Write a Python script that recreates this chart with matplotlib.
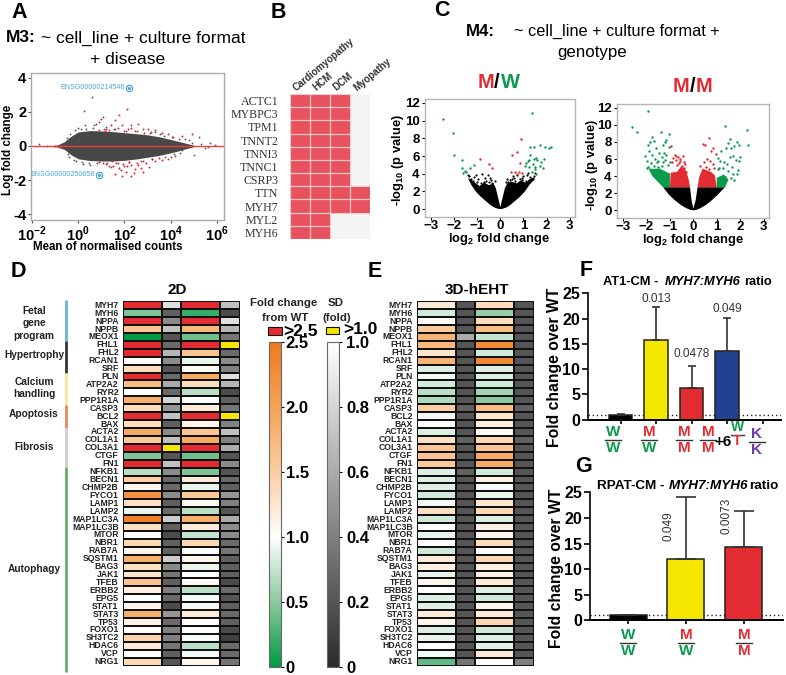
import numpy as np
import matplotlib
matplotlib.use("Agg")
import matplotlib.pyplot as plt
from matplotlib.colors import LinearSegmentedColormap, Normalize
from matplotlib.cm import ScalarMappable
from matplotlib.lines import Line2D
from matplotlib.patches import Rectangle

plt.rcParams['font.family'] = ['Liberation Sans', 'DejaVu Sans']
plt.rcParams['mathtext.fontset'] = 'custom'
plt.rcParams['mathtext.rm'] = 'Liberation Sans:bold'
plt.rcParams['mathtext.bf'] = 'Liberation Sans:bold'

W, H = 786, 675

# panel A, MA plot: cloud outline plus the points that stand apart
ma_cloud_logx = [-1.2, -0.9, -0.6, -0.3, 0.0, 0.5, 1.0, 1.5, 2.0, 2.5, 3.0, 3.5, 4.0, 4.3, 4.6, 5.0]
ma_cloud_up = [0.02, 0.06, 0.25, 0.58, 0.82, 0.9, 0.88, 0.84, 0.78, 0.72, 0.65, 0.54, 0.38, 0.28, 0.18, 0.04]
ma_cloud_low = [-0.02, -0.06, -0.2, -0.52, -0.75, -0.85, -0.88, -0.88, -0.84, -0.76, -0.66, -0.55, -0.4, -0.3, -0.18, -0.04]
ma_grey_logx = [0.6, 0.25, 1.05, -1.7, -1.35, 0.0, 0.3, 0.7, 0.9, 1.2, 1.6, 2.3, 2.8, 3.3, 3.7, 4.2, 4.6, 4.8, 5.0, 5.3, 5.5, 5.7, 5.9, 4.4, 5.2, 3.9, 4.9, 5.6, -0.2, -0.4, 0.2, 0.5, 1.4, 4.5,
                -0.5, -0.35, -0.15, 0.1, 0.35, 0.65, 1.1, 1.55, 2.05, 2.55, 3.1, 3.55, 4.05, 4.35, -0.45, -0.1, 0.15, 0.45, 0.8, 1.25, 1.7, 2.2, 2.7, 3.2, 3.75, 4.15]
ma_grey_y = [2.85, 2.05, 1.7, 0.1, 0.02, 1.05, 1.2, 1.25, 1.4, 1.1, 1.0, 1.2, 1.0, 0.8, 0.6, -0.6, 0.4, 0.35, -0.5, 0.1, -0.1, 0.15, 0.05, -0.4, 0.55, -0.75, 0.15, -0.05, -0.8, -0.65, -1.05, -1.1, -1.25, -0.25,
             0.45, 0.7, 0.95, 1.0, 1.0, 1.05, 1.0, 0.98, 0.9, 0.85, 0.78, 0.68, 0.5, 0.42, -0.45, -0.85, -0.95, -1.0, -1.02, -1.0, -1.0, -0.95, -0.9, -0.78, -0.62, -0.45]
ma_red_logx = [2.1, 0.75, 1.0, 1.2, 1.4, 1.6, 1.9, 2.3, 2.6, 3.0, 3.3, 3.6, 3.9, 4.1, 1.35, 1.7, 2.0, 2.45, 0.9, 1.15, 1.75, 2.15, 2.85, 3.15,
               0.9, 1.2, 1.5, 1.75, 1.95, 2.1, 2.3, 2.55, 2.8, 3.05, 3.3, 3.6, 4.0, 1.05, 1.35, 1.65, 1.85, 2.05, 2.2, 2.45, 2.7, 2.95, 3.2, 3.5, 1.9, 2.4, 2.8, 1.6, 2.0, 2.3, 2.6, 1.45, 4.5, 4.9, -1.0, -0.8, -0.6]
ma_red_y = [2.15, 1.3, 1.6, 1.0, 1.25, 1.5, 1.25, 1.05, 1.3, 1.0, 0.95, 0.75, 0.7, 0.55, 0.95, 1.05, 0.9, 0.85, 0.95, 0.9, 1.8, 1.0, 0.75, 0.8,
            -0.95, -1.05, -1.2, -1.3, -1.05, -1.2, -1.1, -1.0, -0.9, -1.25, -0.85, -0.8, -0.65, -1.0, -1.15, -1.0, -1.4, -1.55, -0.95, -1.35, -1.3, -1.0, -0.75, -0.7, -1.75, -1.6, -1.5, -1.65, -1.15, -1.75, -1.1, -0.9, 0.6, 0.7, 0.02, -0.03, 0.04]
ma_top_gene = "ENSG00000214548"
ma_top_point = (2.2, 3.42)
ma_low_gene = "ENSG00000250658"
ma_low_point = (0.88, -1.69)

# panel B
b_genes = ["ACTC1", "MYBPC3", "TPM1", "TNNT2", "TNNI3", "TNNC1", "CSRP3", "TTN", "MYH7", "MYL2", "MYH6"]
b_groups = ["Cardiomyopathy", "HCM", "DCM", "Myopathy"]
b_member = [[1, 1, 1, 0], [1, 1, 1, 0], [1, 1, 1, 0], [1, 1, 1, 0], [1, 1, 1, 0], [1, 1, 1, 0], [1, 1, 1, 0],
            [1, 1, 1, 1], [1, 1, 1, 1], [1, 1, 0, 0], [1, 1, 0, 0]]

# panel C, M/W volcano
mw_black_x = [-1.4, -1.25, -1.05, -0.85, -0.65, -0.45, -0.28, -0.1, 0.0, 0.1, 0.28, 0.45, 0.65, 0.85, 1.05, 1.25, 1.42, 1.5, 1.35, 1.1, 0.9, 0.7, 0.5, 0.3, 0.2, 0.07, 0.0, -0.07, -0.2, -0.3, -0.5, -0.7, -0.9, -1.1, -1.3]
mw_black_y = [3.5, 2.7, 1.95, 1.4, 0.95, 0.5, 0.2, 0.03, 0.0, 0.03, 0.2, 0.5, 0.95, 1.4, 1.95, 2.7, 3.2, 3.6, 3.5, 3.0, 3.2, 2.9, 3.1, 2.9, 2.4, 1.0, 0.2, 1.0, 2.4, 2.9, 2.7, 3.0, 2.6, 3.0, 3.4]
mw_dots_x = [-1.4, -1.35, -1.25, -1.15, -0.95, -0.8, -0.65, -0.55, -0.4, -0.25, 0.3, 0.4, 0.55, 0.7, 0.85, 1.0, 1.15, 1.3, 1.45, 1.5, -1.05, -0.7, -0.45, 0.25, 0.6, 0.95, 1.2,
             -1.2, -1.0, -0.85, -0.6, -0.5, -0.35, 0.35, 0.5, 0.65, 0.8, 0.95, 1.1, 1.25, 1.4]
mw_dots_y = [3.9, 3.7, 3.4, 3.6, 3.4, 4.0, 3.5, 3.9, 3.3, 3.2, 3.4, 3.3, 3.7, 3.9, 3.4, 3.7, 3.9, 3.6, 3.7, 4.05, 3.9, 3.1, 3.5, 3.1, 3.5, 3.3, 4.05,
             3.2, 3.1, 3.0, 3.2, 3.1, 3.0, 3.1, 3.4, 3.2, 3.1, 3.5, 3.2, 3.3, 3.4]
mw_green_x = [-2.5, -2.05, -2.0, -1.65, -1.65, -1.55, -1.6, -1.5, -1.3, -1.15, 1.35, 1.3, 1.45, 1.7, 1.95, 2.1, 2.2, 1.3, 1.25, 1.1, 1.2, 1.45, 1.55, 1.6, 1.75, 1.9, 1.4, 1.05, 1.5, 1.7, 1.85, 1.5, 1.25, 1.35, 1.55]
mw_green_y = [10.2, 8.6, 6.1, 5.5, 4.7, 4.3, 4.1, 4.15, 4.6, 5.0, 10.9, 7.0, 7.05, 7.3, 7.05, 6.85, 7.0, 6.1, 5.6, 5.2, 5.4, 5.7, 5.8, 5.5, 5.3, 5.7, 5.1, 4.9, 4.8, 4.9, 4.7, 4.5, 4.8, 4.2, 4.0]
mw_red_x = [-0.9, -0.5, -0.35, 0.9, 0.7, 0.5, 0.85, 0.8, 0.65, 0.45, 0.95, 0.7]
mw_red_y = [5.7, 5.1, 4.6, 7.9, 6.5, 6.1, 5.2, 4.2, 4.15, 4.15, 4.1, 4.0]

# panel C, M/M volcano
mm_black_x = [-1.29, -1.05, -0.8, -0.55, -0.3, -0.14, 0.0, 0.14, 0.3, 0.55, 0.8, 1.05, 1.35, 0.18, 0.1, 0.0, -0.08, -0.14]
mm_black_y = [2.7, 1.85, 1.2, 0.65, 0.25, 0.06, 0.0, 0.06, 0.25, 0.65, 1.2, 1.85, 2.7, 2.7, 1.2, 0.2, 1.2, 2.7]
mm_red_left_x = [-1.0, -0.97, -0.7, -0.5, -0.3, -0.2, -0.14, -0.5]
mm_red_left_y = [2.7, 4.4, 4.5, 5.2, 4.6, 3.6, 2.7, 2.7]
mm_red_right_x = [0.18, 0.25, 0.4, 0.55, 0.75, 0.92, 1.0, 0.5]
mm_red_right_y = [2.7, 3.9, 4.9, 4.7, 4.5, 4.1, 2.7, 2.7]
mm_green_left_x = [-1.29, -1.75, -1.9, -1.45, -1.0, -1.0]
mm_green_left_y = [2.7, 4.0, 4.8, 4.9, 4.3, 2.7]
mm_green_right_x = [1.0, 1.0, 1.3, 1.5, 1.35]
mm_green_right_y = [2.7, 3.8, 4.2, 3.6, 2.7]
mm_green_x = [-2.6, -2.4, -1.95, -1.4, -1.05, -1.2, -1.15, -1.75, -1.85, -1.95, -1.7, -1.6, -1.3, -1.25, -1.05, -2.05, -1.9, -1.75, -1.45, -1.35, -1.15, -1.65, -1.5, -1.3, -1.2, -1.0, -2.0, -1.8, -1.55, -1.35, -1.1, -1.95, -1.7, -2.0, -1.85, -1.5,
              1.35, 2.3, 2.35, 1.55, 1.5, 1.85, 1.95, 1.75, 1.4, 1.2, 1.05, 1.15, 1.6, 1.7, 2.0, 1.95, 1.3, 1.55, 1.8, 1.45, 1.1, 1.25, 1.65, 1.9, 1.5, 1.7, 1.05, 1.35, 1.6, 1.85, 1.2, 1.75]
mm_green_y = [9.8, 9.2, 11.6, 9.2, 8.9, 8.0, 8.2, 8.6, 8.0, 7.6, 8.1, 7.3, 7.7, 6.7, 7.4, 6.4, 6.9, 6.5, 6.7, 6.2, 6.5, 6.0, 5.8, 5.6, 5.9, 5.6, 5.8, 5.5, 5.6, 5.2, 5.3, 5.1, 5.2, 4.9, 4.8, 5.1,
              9.9, 9.4, 7.6, 8.3, 7.9, 8.0, 7.7, 7.5, 7.3, 6.9, 6.1, 5.8, 7.3, 6.4, 6.2, 5.8, 5.6, 6.3, 5.9, 5.4, 5.0, 4.9, 5.1, 4.7, 4.6, 4.2, 4.8, 3.9, 3.8, 4.3, 3.3, 3.5]
mm_red_x = [-0.95, -0.8, -0.75, -0.65, -0.55, -0.45, -0.35, -0.9, -0.7, -0.6, -0.5, -0.4, -0.3, -0.85, -0.55, -0.42, -0.72,
            0.65, 0.4, 0.5, 0.85, 0.75, 0.95, 0.6, 0.3, 0.45, 0.7, 0.55, 0.85, 0.35, 0.9, 0.65, 0.5]
mm_red_y = [7.5, 6.5, 5.9, 6.2, 5.8, 6.4, 5.4, 5.6, 5.3, 5.5, 5.2, 5.0, 4.5, 6.1, 6.0, 5.6, 6.4,
            8.5, 7.8, 7.7, 7.3, 6.9, 6.6, 6.0, 5.2, 5.6, 5.8, 5.1, 5.4, 4.5, 5.0, 4.8, 4.6]

# panels D and E
genes = ["MYH7", "MYH6", "NPPA", "NPPB", "MEOX1", "FHL1", "FHL2", "RCAN1", "SRF", "PLN", "ATP2A2", "RYR2", "PPP1R1A",
         "CASP3", "BCL2", "BAX", "ACTA2", "COL1A1", "COL3A1", "CTGF", "FN1", "NFKB1", "BECN1", "CHMP2B", "FYCO1", "LAMP1",
         "LAMP2", "MAP1LC3A", "MAP1LC3B", "MTOR", "NBR1", "RAB7A", "SQSTM1", "BAG3", "JAK1", "TFEB", "ERBB2", "EPG5",
         "STAT1", "STAT3", "TP53", "FOXO1", "SH3TC2", "HDAC6", "VCP", "NRG1"]
fc_2d_a = [3, .45, 3, 1.6, 0, 3, 3, 1.05, 1.35, 3, 1.7, 1.0, 1.85, 1.35, 3, 1.35, 1.9, 1.55, 3, .45, 3, .7, 1.5, 1.1, 2.2, 1.3,
           .9, 2.4, 1.3, 1.0, 1.4, 1.1, 1.85, 1.3, 1.25, 1.65, 1.15, 1.0, 1.1, 1.85, 1.15, 1.0, 1.45, 1.2, 1.0, 1.4]
sd_2d_a = [.85, .25, .45, .7, .2, .3, .65, .45, .2, .3, .6, .3, .8, .5, .7, .25, .45, .7, 1.2, .2, .7, .45, .3, .3, .45, .25,
           .3, .75, .25, .15, .25, .25, .75, .45, .35, .25, .4, .3, .15, .5, .3, .4, .4, .35, .25, .2]
fc_2d_b = [3, .2, 3, 1.75, .4, 3, 1.6, .9, 1.05, 1.9, 1.35, .7, 1.0, 1.2, 3, 1.1, 1.6, 1.9, 3, .4, 3, .45, 1.2, .9, 1.55, 1.05,
           .7, 1.85, 1.2, .75, 1.4, 1.0, 1.1, .9, 1.0, 1.05, .7, .95, .95, 1.2, 1.0, 1.0, .95, .7, .95, 1.1]
sd_2d_b = [.7, .15, .85, .65, .35, 1.2, .3, .45, .4, .85, .65, .15, .25, .35, 1.2, .4, .7, .4, .6, .2, .45, .2, .3, .25, .5, .4,
           .2, .6, .45, .45, .3, .35, .25, .25, .25, .15, .3, .2, .25, .3, .25, .15, .1, .3, .3, .35]
fc_3d_a = [1.2, .8, 1.05, 1.55, 1.8, 1.75, 1.25, 1.8, .85, .95, .8, .7, .65, 1.5, .95, 1.0, .85, 1.3, 1.6, 1.6, 1.55, .85, .85,
           .85, .8, .95, 1.3, .8, 1.0, .9, 1.0, .8, 1.2, 1.15, .9, 1.1, 1.0, .85, .85, 1.2, 1.1, .85, .9, 1.0, .95, .35]
sd_3d_a = [.2, .2, .2, .2, .6, .2, .2, .2, .2, .2, .2, .2, .2, .25, .2, .2, .2, .25, .2, .2, .2, .25, .2,
           .2, .2, .2, .2, .2, .2, .2, .2, .2, .2, .2, .2, .2, .2, .2, .2, .2, .2, .2, .2, .2, .2, .35]
fc_3d_b = [1.35, .55, 1.35, 1.7, .75, 2.3, .8, 2.3, .85, .85, .8, .6, .5, 1.7, 1.25, 1.15, 1.05, 1.4, 1.6, 1.9, 1.9, .8, 1.15,
           .95, .9, 1.25, 1.4, .85, 1.15, 1.1, 1.35, 1.0, 1.4, 1.15, 1.15, 1.2, .85, .8, 1.1, 1.2, 1.4, .8, .85, .88, 1.2, 1.0]
sd_3d_b = [.2, .2, .2, .2, .2, .2, .2, .2, .2, .2, .2, .2, .2, .25, .2, .2, .2, .25, .2, .2, .2, .2, .2,
           .2, .2, .2, .2, .2, .2, .2, .2, .2, .2, .2, .2, .2, .2, .2, .2, .2, .2, .2, .2, .2, .2, .4]
fold_ticks = [0, 0.5, 1.0, 1.5, 2.0, 2.5]
fold_tick_labels = ["0", "0.5", "1.0", "1.5", "2.0", "2.5"]
sd_ticks = [0, 0.2, 0.4, 0.6, 0.8, 1.0]
sd_tick_labels = ["0", "0.2", "0.4", "0.6", "0.8", "1.0"]

# panels F and G
f_values = [0.9, 15.8, 6.3, 13.6]
f_err_top = [1.1, 22.3, 10.7, 20.1]
f_pvals = ["0.013", "0.0478", "0.049"]
f_pval_heights = [23.9, 12.9, 21.9]
bar_ticks = [0, 5, 10, 15, 20, 25]
g_values = [1.0, 12.0, 14.3]
g_err_top = [1.1, 24.1, 21.3]
g_pvals = ["0.049", "0.0073"]
g_pval_heights = [18.3, 20.4]

C_RED = "#E32B32"
C_GREEN = "#0A9B4C"
C_YELLOW = "#F5E600"
C_BLUE = "#22418F"
C_PURPLE = "#6A3FA0"
C_PINK = "#E8525F"
C_LABEL = "#4BA3D8"
C_TEXT = "#222222"

fig = plt.figure(figsize=(W / 100, H / 100), dpi=100)


def axes_px(left, top, right, bottom):
    return fig.add_axes([left / W, 1 - bottom / H, (right - left) / W, (bottom - top) / H])


def text_px(x, y, s, **kw):
    kw.setdefault("va", "center")
    kw.setdefault("ha", "center")
    return fig.text(x / W, 1 - y / H, s, **kw)


def line_px(x0, y0, x1, y1, **kw):
    fig.add_artist(Line2D([x0 / W, x1 / W], [1 - y0 / H, 1 - y1 / H], transform=fig.transFigure, **kw))


def fraction(x, y, top, bottom, top_color, bottom_color, size=11):
    text_px(x, y, top, color=top_color, fontsize=size, fontweight="bold")
    text_px(x, y + 16, bottom, color=bottom_color, fontsize=size, fontweight="bold")
    line_px(x - 8, y + 8, x + 8, y + 8, color="#333333", lw=1)


# panel letters
for letter, x, y in [("A", 19, 12), ("B", 278, 13), ("C", 442, 11), ("D", 18, 271), ("E", 375, 271), ("F", 586, 270), ("G", 583, 467)]:
    text_px(x, y, letter, fontsize=15.5, fontweight="bold")

# titles
text_px(21, 38, "M3:", fontsize=12.5, fontweight="bold")
text_px(143, 38, "~ cell_line + culture format", fontsize=12.5)
text_px(128, 59, "+ disease", fontsize=12.5)
text_px(480, 31, "M4:", fontsize=12.2, fontweight="bold")
text_px(617, 31, "~ cell_line + culture format +", fontsize=11.7)
text_px(592, 53, "genotype", fontsize=12.2)

# A
ax = axes_px(31, 73, 224, 220)
ax.set_xscale("log")
ax.fill_between(10.0 ** np.array(ma_cloud_logx), ma_cloud_low, ma_cloud_up, color="#484848", lw=0)
ax.scatter(10.0 ** np.array(ma_grey_logx), ma_grey_y, s=1.8, color="#5A5A5A", lw=0)
ax.scatter(10.0 ** np.array(ma_red_logx), ma_red_y, s=2, color="#E8202A", lw=0)
ax.axhline(0, color="#E8403F", lw=1)
for gene, (lx, ly) in [(ma_top_gene, ma_top_point), (ma_low_gene, ma_low_point)]:
    ax.plot(10 ** lx, ly, "o", ms=4.5, mfc="none", mec=C_LABEL, mew=0.9)
    ax.plot(10 ** lx, ly, "o", ms=1.2, color=C_LABEL)
    ax.annotate(gene, (10 ** lx, ly), xytext=(-3, 0), textcoords="offset points", ha="right", va="center", fontsize=5.1, color=C_LABEL)
ax.set_xlim(10 ** -2.04, 10 ** 6.3)
ax.set_ylim(-4.33, 4.27)
ax.set_xticks([1e-2, 1e0, 1e2, 1e4, 1e6])
ax.set_xticklabels([r"10$^{\mathrm{-2}}$", r"10$^{\mathrm{0}}$", r"10$^{\mathrm{2}}$", r"10$^{\mathrm{4}}$", r"10$^{\mathrm{6}}$"], fontsize=10.5, fontweight="bold")
ax.minorticks_off()
ax.set_yticks([-4, -2, 0, 2, 4])
ax.set_yticklabels(["-4", "-2", "0", "2", "4"], fontsize=10.5, fontweight="bold")
ax.tick_params(length=2, width=0.8, color="#555555", pad=1.5)
for s in ax.spines.values():
    s.set_color("#AAAAAA")
    s.set_linewidth(1)
text_px(108, 247, "Mean of normalised counts", fontsize=8.3, fontweight="bold")
text_px(8, 150, "Log fold change", fontsize=8.4, fontweight="bold", rotation=90)

# B
ax = axes_px(290, 94, 370, 239)
ax.pcolormesh(np.arange(5), np.arange(12), np.array(b_member), cmap=LinearSegmentedColormap.from_list("b", ["#F4F4F4", C_PINK]),
              edgecolors="none", vmin=0, vmax=1)
for r, row in enumerate(b_member):
    for c, v in enumerate(row):
        if v:
            ax.add_patch(Rectangle((c, r), 1, 1, fc="none", ec="#F7C9CC", lw=0.8))
ax.set_xlim(0, 4)
ax.set_ylim(11, 0)
ax.set_xticks([])
ax.set_yticks(np.arange(11) + 0.5)
ax.set_yticklabels(b_genes, family="Liberation Serif", fontsize=8.6, color="#333333")
ax.tick_params(length=0, pad=8.5)
for s in ax.spines.values():
    s.set_visible(False)
for i, name in enumerate(b_groups):
    ax.text(i + 0.4, -0.1, name, rotation=40, ha="left", va="bottom", rotation_mode="anchor", fontsize=7, fontweight="bold", color="#333333")


# C
def style_volcano(a, pad):
    a.set_xlim(-3.26, 3.23)
    a.set_ylim(-0.9, 12.45)
    a.set_xticks(range(-3, 4))
    a.set_yticks(range(0, 13, 2))
    a.tick_params(labelsize=9.5, length=2, width=0.8, pad=2)
    a.tick_params(axis="x", pad=pad)
    for t in a.get_xticklabels() + a.get_yticklabels():
        t.set_fontweight("bold")
    for s in a.spines.values():
        s.set_color("#B5B5B5")
        s.set_linewidth(1)


ax = axes_px(425, 99, 575, 217)
ax.fill(mw_black_x, mw_black_y, color="black", lw=0)
ax.scatter(mw_dots_x, mw_dots_y, s=2.5, color="black", lw=0)
ax.scatter(mw_green_x, mw_green_y, s=3, color=C_GREEN, lw=0)
ax.scatter(mw_red_x, mw_red_y, s=3, color=C_RED, lw=0)
style_volcano(ax, 0)

ax = axes_px(617, 104, 769, 218)
ax.fill(mm_black_x, mm_black_y, color="black", lw=0)
ax.fill(mm_red_left_x, mm_red_left_y, color=C_RED, lw=0)
ax.fill(mm_red_right_x, mm_red_right_y, color=C_RED, lw=0)
ax.fill(mm_green_left_x, mm_green_left_y, color=C_GREEN, lw=0)
ax.fill(mm_green_right_x, mm_green_right_y, color=C_GREEN, lw=0)
ax.scatter(mm_green_x, mm_green_y, s=3, color=C_GREEN, lw=0)
ax.scatter(mm_red_x, mm_red_y, s=3, color=C_RED, lw=0)
style_volcano(ax, 0)

text_px(486, 83, "M", color=C_RED, fontsize=14.5, fontweight="bold")
text_px(497, 83, "/", color="black", fontsize=14.5, fontweight="bold")
text_px(510, 83, "W", color=C_GREEN, fontsize=14.5, fontweight="bold")
text_px(681, 87, "M", color=C_RED, fontsize=14.5, fontweight="bold")
text_px(692.5, 87, "/", color="black", fontsize=14.5, fontweight="bold")
text_px(704, 87, "M", color=C_RED, fontsize=14.5, fontweight="bold")
text_px(499, 239, r"log$_{\mathrm{2}}$ fold change", fontsize=9.3, fontweight="bold")
text_px(693, 240, r"log$_{\mathrm{2}}$ fold change", fontsize=9.3, fontweight="bold")
text_px(398, 160, r"-log$_{\mathrm{10}}$ (p value)", fontsize=9.3, fontweight="bold", rotation=90)
text_px(592, 165, r"-log$_{\mathrm{10}}$ (p value)", fontsize=9.3, fontweight="bold", rotation=90)

# D and E heatmaps
fold_cmap = LinearSegmentedColormap.from_list(
    "fold", [(0, "#009A44"), (0.2, "#8CC9A0"), (0.4, "#FFFFFF"), (0.6, "#FBCDA0"), (0.8, "#F5A357"), (1, "#EE7A1E")]).with_extremes(over=C_RED)
sd_base = LinearSegmentedColormap.from_list("sd", ["#2B2B2B", "#FFFFFF"])
sd_cmap = sd_base.with_extremes(over=C_YELLOW)
fold_norm = Normalize(0, 2.5)
sd_norm = Normalize(0, 1)


def draw_heat(left, right, columns, label_x):
    edges = [0, 2, 3, 5, 6]
    a = axes_px(left, 301.3, right, 665.6)
    y_edges = np.arange(len(genes) + 1)
    for i, col in enumerate(columns):
        vals = np.array(col).reshape(-1, 1)
        is_fold = i % 2 == 0
        a.pcolormesh(edges[i:i + 2], y_edges, vals, cmap=fold_cmap if is_fold else sd_cmap,
                     norm=fold_norm if is_fold else sd_norm, edgecolors="#111111", linewidth=1.15)
    a.set_xlim(edges[0], edges[-1])
    a.set_ylim(len(genes), 0)
    a.axis("off")
    for i, g in enumerate(genes):
        a.text(label_x, i + 0.5, g, ha="right", va="center", fontsize=6.2, fontweight="bold", color=C_TEXT,
               transform=a.get_yaxis_transform(), clip_on=False)


draw_heat(122.7, 240, [fc_2d_a, sd_2d_a, fc_2d_b, sd_2d_b], -0.035)
draw_heat(416.7, 534, [fc_3d_a, sd_3d_a, fc_3d_b, sd_3d_b], -0.035)
text_px(177, 290, "2D", fontsize=11, fontweight="bold")
text_px(477, 290, "3D-hEHT", fontsize=11, fontweight="bold")

# group labels and bars in D
for name_lines, y in [(["Fetal", "gene", "program"], [311, 323, 336]), (["Hypertrophy"], [355.5]), (["Calcium", "handling"], [381.5, 393.5]),
                      (["Apoptosis"], [414]), (["Fibrosis"], [447]), (["Autophagy"], [569])]:
    for s, yy in zip(name_lines, y):
        text_px(34, yy, s, fontsize=7.3, fontweight="bold", color=C_TEXT)
for y0, y1, col in [(300, 341, "#6BB2DC"), (341, 373, "#333333"), (373, 405, "#FCE59A"), (405, 428, "#E9875A"),
                    (428, 467, "#CFCFCF"), (467, 672, "#66AD6A")]:
    line_px(66, y0, 66, y1, color=col, lw=2, solid_capstyle="butt")

# legends
text_px(284, 303, "Fold change", fontsize=8.2, fontweight="bold", color=C_TEXT)
text_px(285.5, 318, "from WT", fontsize=8.2, fontweight="bold", color=C_TEXT)
text_px(335.5, 303, "SD", fontsize=8.2, fontweight="bold", color=C_TEXT)
text_px(337, 318, "(fold)", fontsize=8.2, fontweight="bold", color=C_TEXT)
fig.add_artist(Rectangle((268 / W, 1 - 335 / H), 14 / W, 8 / H, fc=C_RED, ec="#111111", lw=0.8, transform=fig.transFigure))
text_px(300, 332, ">2.5", fontsize=12.5, fontweight="bold")
fig.add_artist(Rectangle((326 / W, 1 - 334 / H), 13 / W, 7 / H, fc=C_YELLOW, ec="#111111", lw=0.8, transform=fig.transFigure))
text_px(360, 330, ">1.0", fontsize=12.5, fontweight="bold")

# colorbars
cax = axes_px(269, 342, 281, 667)
cb = fig.colorbar(ScalarMappable(fold_norm, fold_cmap), cax=cax)
cb.set_ticks(fold_ticks)
cb.set_ticklabels(fold_tick_labels, fontsize=12, fontweight="bold")
cb.ax.tick_params(length=2, pad=1.5)
cb.outline.set_linewidth(0.8)
cb.outline.set_edgecolor("#666666")
cax = axes_px(327, 342, 339, 667)
cb = fig.colorbar(ScalarMappable(sd_norm, sd_base), cax=cax)
cb.set_ticks(sd_ticks)
cb.set_ticklabels(sd_tick_labels, fontsize=12, fontweight="bold")
cb.ax.tick_params(length=2, pad=3)
cb.outline.set_linewidth(0.8)
cb.outline.set_edgecolor("#666666")


def style_bar_axis(a):
    a.set_ylim(0, 25)
    a.set_yticks(bar_ticks)
    a.tick_params(axis="y", labelsize=11.5, length=4, width=1.2, pad=1.5)
    a.tick_params(axis="x", length=3, width=1.2, labelbottom=False)
    for t in a.get_yticklabels():
        t.set_fontweight("bold")
    a.spines["top"].set_visible(False)
    a.spines["right"].set_visible(False)
    a.spines["left"].set_linewidth(1.2)
    a.spines["bottom"].set_linewidth(1.4)
    a.axhline(1, color="#222222", lw=1, ls=(0, (1, 2)), zorder=0)


# F
ax = axes_px(588, 293.3, 781, 419.7)
pos = np.arange(5)
ax.bar(pos[:4], f_values, width=0.66, color=["black", C_YELLOW, C_RED, C_BLUE], edgecolor="#222222", lw=1.1)
ax.errorbar(pos[:4], f_values, yerr=[np.zeros(4), np.array(f_err_top) - np.array(f_values)], fmt="none",
            ecolor="#333333", elinewidth=1.2, capsize=3, capthick=1.2)
ax.set_xlim(-0.92, 4.52)
ax.set_xticks(pos)
style_bar_axis(ax)
for x, y, p in zip(pos[1:4], f_pval_heights, f_pvals):
    ax.text(x, y, p, ha="center", va="center", fontsize=8.5, color="#333333")
text_px(603, 281.5, "AT1-CM -", fontsize=9.3, fontweight="bold", ha="left")
text_px(665, 281.5, "MYH7:MYH6", fontsize=9.3, fontweight="bold", style="italic", ha="left")
text_px(744, 281.5, "ratio", fontsize=9.3, fontweight="bold", ha="left")
text_px(555, 367, "Fold change over WT", fontsize=11.3, fontweight="bold", rotation=90)

fraction(613, 432, "W", "W", C_GREEN, C_GREEN)
fraction(649, 432, "M", "W", C_RED, C_GREEN)
fraction(684, 432, "M", "M", C_RED, C_RED)
fraction(708, 432, "M", "M", C_RED, C_RED)
text_px(723, 441.5, "+6", fontsize=11, fontweight="bold")
text_px(737.5, 427, "W", color=C_GREEN, fontsize=10, fontweight="bold")
text_px(737.5, 441, "T", color=C_RED, fontsize=10, fontweight="bold")
line_px(731, 435, 744, 435, color="#333333", lw=1)
fraction(757, 434, "K", "K", C_PURPLE, C_PURPLE)

# G
ax = axes_px(590, 492.3, 783, 620.3)
pos = np.arange(3)
ax.bar(pos, g_values, width=0.64, color=["black", C_YELLOW, C_RED], edgecolor="#222222", lw=1.1)
ax.errorbar(pos, g_values, yerr=[np.zeros(3), np.array(g_err_top) - np.array(g_values)], fmt="none",
            ecolor="#333333", elinewidth=1.2, capsize=7, capthick=1.2)
ax.set_xlim(-0.66, 2.68)
ax.set_xticks(pos)
style_bar_axis(ax)
for x, y, p in zip(pos[1:], g_pval_heights, g_pvals):
    ax.text(x - 0.295, y, p, rotation=90, ha="center", va="center", fontsize=8.5, color="#333333")
text_px(597, 486, "RPAT-CM -", fontsize=9.7, fontweight="bold", ha="left")
text_px(669, 486, "MYH7:MYH6", fontsize=9.7, fontweight="bold", style="italic", ha="left")
text_px(749, 486, "ratio", fontsize=9.7, fontweight="bold", ha="left")
text_px(557, 568, "Fold change over WT", fontsize=11.3, fontweight="bold", rotation=90)

fraction(628, 635, "W", "W", C_GREEN, C_GREEN)
fraction(686, 635, "M", "W", C_RED, C_GREEN)
fraction(744, 635, "M", "M", C_RED, C_RED)

fig.savefig("out.png", dpi=100)
